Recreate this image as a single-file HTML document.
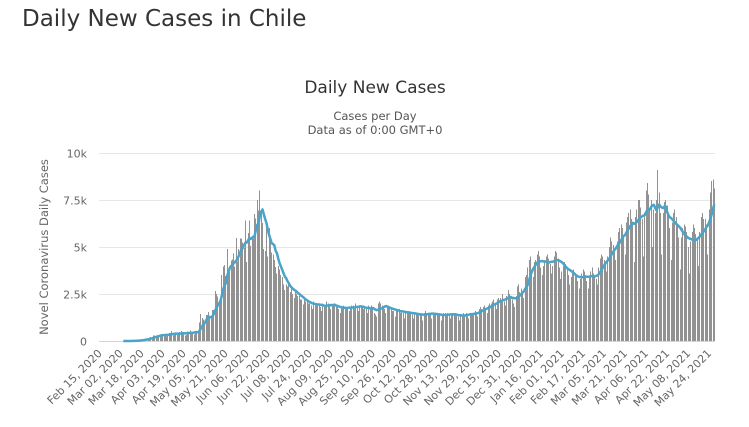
<!DOCTYPE html>
<html><head><meta charset="utf-8"><style>
body{margin:0;width:749px;height:427px;background:#fff;overflow:hidden;font-family:"DejaVu Sans","Liberation Sans",sans-serif;}
#page-title{position:absolute;left:22px;top:6px;font-size:23px;color:#333;margin:0;font-weight:normal;}
svg{position:absolute;left:0;top:0;}
</style></head><body>
<h1 id="page-title">Daily New Cases in Chile</h1>
<svg id="chart" width="749" height="427" font-family="DejaVu Sans, Liberation Sans, sans-serif"></svg>
<script>
const startDate = [2020, 1, 15];
const cases = [
0,0,0,0,0,0,0, 0,0,0,0,0,0,0, 0,0,0,0,1,2,1,
2,3,3,4,10,20,18, 14,14,81,45,37,104,92, 104,98,114,176,220,164,304,
299,230,293,299,310,362,373, 308,310,301,300,426,426,531, 286,426,356,312,347,483,519,
478,407,286,324,493,475,552, 482,473,344,513,413,513,985, 1427,1228,1138,980,1373,1391,1533,
1247,1197,1658,1658,2660,2502,2355, 1911,2260,3520,3964,4038,3446,4895, 3537,3709,4276,4328,4654,3964,5471,
4220,4895,5456,5456,5246,4942,6405, 4207,5737,6405,5044,5596,5448,6754, 6509,7500,6938,8000,7000,6290,4900,
4800,6000,4500,6000,5500,4700,4600, 4296,3948,3600,4000,3800,3500,3400, 3000,2700,3000,2900,3000,2600,2800,
2500,2300,2700,2500,2400,2400,2200, 2200,1950,2200,2100,2100,2000,2000, 1900,1700,2100,2000,2000,1900,2000,
1800,1600,2000,1900,1800,2100,2000, 1900,1700,1900,2000,1900,1800,1900, 1700,1500,1800,1800,1900,1800,1800,
1750,1600,1700,1900,1900,1800,2000, 1800,1600,1900,1900,1800,1700,1800, 1700,1500,1900,1800,1900,1700,1500,
1400,1300,2000,2100,2000,1900,1800, 1700,1500,1800,1900,1800,1700,1600, 1600,1300,1700,1700,1700,1500,1600,
1500,1200,1600,1600,1600,1500,1500, 1400,1200,1500,1500,1500,1400,1400, 1400,1100,1500,1600,1500,1500,1500,
1400,1200,1500,1500,1500,1400,1400, 1400,1100,1400,1500,1500,1400,1500, 1400,1200,1400,1500,1500,1400,1400,
1300,1100,1400,1400,1500,1400,1500, 1400,1200,1500,1500,1500,1500,1600, 1500,1300,1700,1800,1700,1800,1900,
1700,1500,1900,2000,2000,2100,2200, 2000,1700,2200,2300,2300,2200,2500, 2100,1900,2400,2700,2500,2300,2200,
2000,1800,2400,2900,3000,2600,2800, 2500,2300,3400,3500,3900,4300,4500, 3800,3400,4200,4300,4600,4800,4500,
3900,3500,4000,4300,4500,4600,4400, 4100,3600,4000,4500,4800,4700,4400, 3900,3300,3700,4000,4200,4100,3900,
3500,3000,3400,3600,3800,3600,3500, 3200,2800,3300,3600,3800,3700,3500, 3200,2800,3400,3700,3900,3600,3500,
3300,3000,3900,4400,4600,4500,4300, 4100,3700,4500,5000,5500,5300,5100, 4800,4300,5300,5800,6000,6200,6000,
5500,4600,6300,6600,6800,7000,6500, 6200,4200,6600,7000,7500,7500,7100, 6500,4500,6800,8000,8400,7800,7000,
7500,5000,7000,6800,7500,9100,7900, 6800,4600,6800,7400,7500,7200,6600, 6000,4300,6300,6800,7000,6600,6200,
5500,3800,5500,6000,6200,6100,5800, 5000,3600,5300,5800,6200,6000,5700, 5400,4000,5800,6600,6800,6500,6500,
6200,4600,7000,7900,8500,8600,8100
];
const yTicks = [0, 2500, 5000, 7500, 10000];
const yTickLabels = ["0", "2.5k", "5k", "7.5k", "10k"];

const svg = document.getElementById('chart');
const NS = 'http://www.w3.org/2000/svg';
const L = 99, R = 715, T = 153, B = 341, YMAX = 10000;
const N = cases.length;
const step = (R - L) / N;
const xPos = i => L + (i + 0.5) * step;
const yPos = v => B - v / YMAX * (B - T);
function mk(tag, attrs, parent) {
  const e = document.createElementNS(NS, tag);
  for (const k in attrs) e.setAttribute(k, attrs[k]);
  (parent || svg).appendChild(e);
  return e;
}
let t = mk('text', {x: 375, y: 93, 'text-anchor': 'middle', 'font-size': 17, fill: '#333'});


t.textContent = 'Daily New Cases';
t = mk('text', {x: 375, y: 120, 'text-anchor': 'middle', 'font-size': 11.5, fill: '#555'});


t.textContent = 'Cases per Day';
t = mk('text', {x: 375, y: 134, 'text-anchor': 'middle', 'font-size': 11.5, fill: '#555'});


t.textContent = 'Data as of 0:00 GMT+0';
yTicks.forEach((v, k) => {
  const y = Math.round(yPos(v)) + 0.5;
  if (v > 0) {
    const g = mk('line', {x1: L, x2: R, y1: y, y2: y, stroke: '#e6e6e6', 'stroke-width': 1});
    
    
  }
  const lb = mk('text', {x: 87, y: y + 4, 'text-anchor': 'end', 'font-size': 11, fill: '#666'});
  
  
  lb.textContent = yTickLabels[k];
});
const yt = mk('text', {x: 0, y: 0, 'text-anchor': 'middle', 'font-size': 11.5, fill: '#666', transform: 'translate(48,' + ((T + B) / 2) + ') rotate(-90)'});


yt.textContent = 'Novel Coronavirus Daily Cases';
const barG = mk('g', {fill: '#929292', 'shape-rendering': 'crispEdges'});


cases.forEach((v, i) => {
  if (v <= 0) return;
  const b = mk('rect', {x: Math.floor(xPos(i)), y: yPos(v).toFixed(2), width: 1, height: (B - yPos(v)).toFixed(2)}, barG);
  
  
});
const ax = mk('line', {x1: L, x2: R, y1: B + 0.5, y2: B + 0.5, stroke: '#ccd6eb', 'stroke-width': 1});


let pts = [];
for (let i = 0; i < N; i++) {
  if (i < 6) continue;
  let s = 0; for (let j = i - 6; j <= i; j++) s += cases[j];
  const a = s / 7;
  if (i >= 18) pts.push(xPos(i).toFixed(2) + ',' + yPos(a).toFixed(2));
}
const ln = mk('polyline', {points: pts.join(' '), fill: 'none', stroke: '#4aa3c8', 'stroke-width': 2.5, 'stroke-linejoin': 'round'});


const months = ['Jan','Feb','Mar','Apr','May','Jun','Jul','Aug','Sep','Oct','Nov','Dec'];
for (let i = 0; i < N; i += 16) {
  const d = new Date(Date.UTC(startDate[0], startDate[1], startDate[2] + i));
  const lbl = months[d.getUTCMonth()] + ' ' + String(d.getUTCDate()).padStart(2, '0') + ', ' + d.getUTCFullYear();
  const x = xPos(i) + 3;
  const xl = mk('text', {x: 0, y: 0, 'text-anchor': 'end', 'font-size': 11, fill: '#666', transform: 'translate(' + x.toFixed(1) + ',' + (B + 13) + ') rotate(-45)'});
  
  
  xl.textContent = lbl;
}
</script>
</body></html>
